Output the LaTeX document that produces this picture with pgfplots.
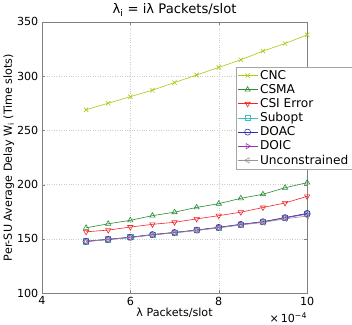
\documentclass[border=0pt]{standalone}
\usepackage{fontspec}
\setmainfont{DejaVu Sans}
\usepackage{pgfplots}
\pgfplotsset{compat=1.18}
\definecolor{cnc}{RGB}{170,200,20}
\definecolor{csma}{RGB}{40,140,50}
\definecolor{csie}{RGB}{240,40,40}
\definecolor{subopt}{RGB}{60,190,190}
\definecolor{doac}{RGB}{50,50,170}
\definecolor{doic}{RGB}{160,50,180}
\definecolor{uncon}{RGB}{150,150,150}
\begin{document}
\begin{tikzpicture}[font=\fontsize{11}{13}\selectfont]
\begin{axis}[
  scale only axis, width=261bp, height=267bp,
  xmin=4, xmax=10, ymin=100, ymax=350,
  xtick={4,6,8,10}, ytick={100,150,...,350},
  /pgf/number format/assume math mode=true,
  grid=major, grid style={dotted, gray!40},
  axis line style={gray}, tick style={gray}, tick align=inside, major tick length=3pt,
  title={λ\textsubscript{i} = iλ Packets/slot},
  title style={yshift=-4pt, font=\fontsize{13}{14}\selectfont},
  xlabel={λ Packets/slot},
  ylabel={Per-SU Average Delay W\textsubscript{i} (Time slots)},
  xlabel style={yshift=4pt},
  ylabel style={yshift=-4pt},
  legend style={at={(1.169,0.835)}, anchor=north east, draw=gray!70, font=\fontsize{12}{13}\selectfont, inner sep=1.5pt, row sep=-0.5pt, cells={anchor=west}},
  legend cell align=left,
  legend image code/.code={\draw[mark repeat=2,mark phase=2,#1] plot coordinates {(0cm,0cm) (0.35cm,0cm) (0.7cm,0cm)};},
  every axis plot/.append style={semithick, mark size=3pt, mark options={solid, fill=none}},
  clip=false,
]
\addplot[color=cnc, mark=x] coordinates {(5,269) (5.5,275) (6,281) (6.5,287) (7,294) (7.5,301) (8,308) (8.5,315) (9,323) (9.5,330) (10,338)};
\addplot[color=csma, mark=triangle] coordinates {(5,160.2) (5.5,163.9) (6,167.1) (6.5,171.4) (7,174.6) (7.5,179.0) (8,182.4) (8.5,187.4) (9,191.1) (9.5,197.1) (10,201.8)};
\addplot[color=csie, mark=triangle, mark options={rotate=180, fill=none}] coordinates {(5,156.5) (5.5,158.1) (6,160.9) (6.5,163.4) (7,165.3) (7.5,168.4) (8,171.4) (8.5,174.6) (9,178.9) (9.5,183.1) (10,189.2)};
\addplot[color=subopt, mark=square, mark size=2.5pt] coordinates {(5,147.8) (5.5,149.6) (6,151.5) (6.5,154.0) (7,155.9) (7.5,158.1) (8,160.6) (8.5,163.4) (9,165.8) (9.5,169.6) (10,173.3)};
\addplot[color=doac, mark=o] coordinates {(5,147.8) (5.5,149.6) (6,151.5) (6.5,154.0) (7,155.9) (7.5,158.1) (8,160.6) (8.5,163.4) (9,165.8) (9.5,169.6) (10,173.5)};
\addplot[color=doic, mark=triangle, mark options={rotate=-90, fill=none}] coordinates {(5,147.6) (5.5,149.5) (6,151.3) (6.5,153.8) (7,155.8) (7.5,158.0) (8,160.5) (8.5,163.2) (9,165.6) (9.5,169.3) (10,172.8)};
\addplot[color=uncon, mark=triangle, mark options={rotate=90, fill=none}] coordinates {(5,147.5) (5.5,149.3) (6,151.2) (6.5,153.6) (7,155.5) (7.5,157.7) (8,160.1) (8.5,162.8) (9,165.1) (9.5,168.5) (10,171.0)};
\legend{CNC, CSMA, CSI Error, Subopt, DOAC, DOIC, Unconstrained}
\node[anchor=north east, inner sep=2pt] at (rel axis cs:1,0) [yshift=-17bp, xshift=2pt] {×\,10\textsuperscript{−4}};
\end{axis}
\end{tikzpicture}
\end{document}
